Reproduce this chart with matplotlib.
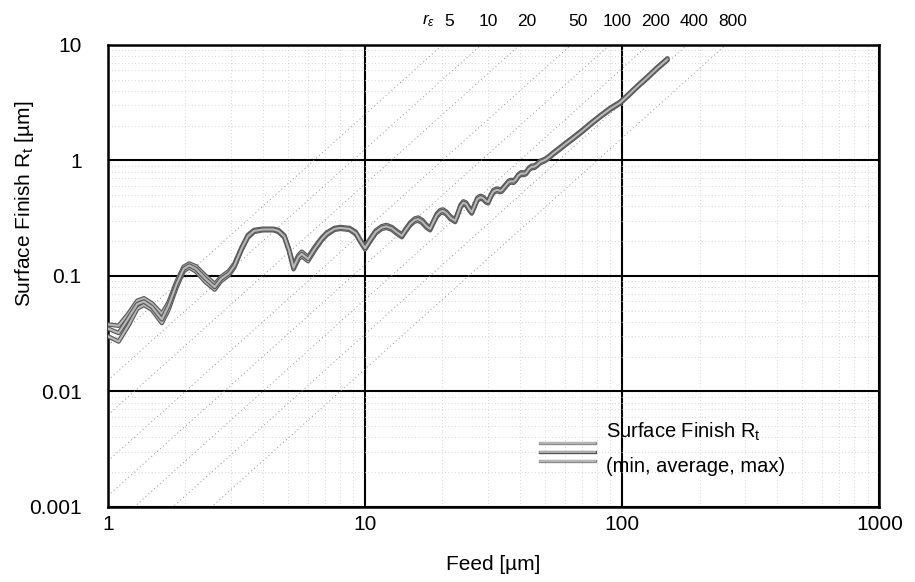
import numpy as np
import matplotlib
matplotlib.use('Agg')
import matplotlib.pyplot as plt
import matplotlib.patheffects as pe
from matplotlib.lines import Line2D

plt.rcParams['font.family'] = ['Liberation Sans', 'DejaVu Sans']
plt.rcParams['mathtext.fontset'] = 'custom'
plt.rcParams['mathtext.rm'] = 'Liberation Sans'
plt.rcParams['mathtext.it'] = 'Liberation Sans:italic'

# feed [um] and measured surface finish Rt [um]
feed = [1.0, 1.1, 1.2, 1.3, 1.38, 1.48, 1.62, 1.72, 1.85, 1.97,
        2.07, 2.2, 2.4, 2.6, 2.75, 2.95, 3.1, 3.3, 3.5, 3.7,
        4.0, 4.4, 4.6, 4.85, 5.05, 5.27, 5.5, 5.67, 6.0, 6.4,
        6.8, 7.1, 7.6, 8.0, 8.7, 9.2, 9.6, 10.0, 10.4, 11.0,
        11.6, 12.1, 12.7, 13.3, 13.9, 14.4, 15.0, 15.6, 16.1, 16.7,
        17.3, 17.9, 18.4, 19.0, 19.6, 20.1, 20.7, 21.5, 22.4, 22.9,
        23.5, 24.1, 24.7, 25.4, 26.0, 26.6, 27.3, 28.1, 28.8, 29.5,
        30.1, 30.8, 31.6, 32.6, 33.4, 34.0, 34.9, 36.2, 37.0, 37.8,
        38.5, 39.5, 40.5, 41.5, 42.3, 43.3, 44.5, 45.5, 46.5, 48.0,
        49.2, 50.5, 52, 54, 57, 60, 65, 70, 76, 83,
        90, 98, 106, 115, 125, 137, 150]

rt_avg = [0.035, 0.032, 0.043, 0.057, 0.060, 0.054, 0.042, 0.055, 0.085, 0.115,
          0.123, 0.115, 0.094, 0.080, 0.094, 0.105, 0.122, 0.170, 0.220, 0.245,
          0.252, 0.252, 0.245, 0.220, 0.170, 0.118, 0.145, 0.155, 0.140, 0.175,
          0.210, 0.232, 0.255, 0.260, 0.255, 0.235, 0.200, 0.174, 0.200, 0.240,
          0.262, 0.268, 0.258, 0.238, 0.222, 0.250, 0.283, 0.305, 0.310, 0.295,
          0.270, 0.255, 0.290, 0.335, 0.360, 0.365, 0.350, 0.318, 0.300, 0.340,
          0.400, 0.430, 0.420, 0.380, 0.355, 0.400, 0.460, 0.480, 0.470, 0.445,
          0.435, 0.490, 0.540, 0.556, 0.545, 0.550, 0.590, 0.650, 0.660, 0.655,
          0.680, 0.740, 0.770, 0.765, 0.780, 0.840, 0.880, 0.880, 0.910, 0.970,
          0.990, 1.020, 1.070, 1.150, 1.260, 1.380, 1.580, 1.800, 2.100, 2.450,
          2.800, 3.150, 3.700, 4.400, 5.200, 6.300, 7.500]

rt_min = [0.030, 0.027, 0.037, 0.052, 0.056, 0.051, 0.039, 0.051, 0.080, 0.110,
          0.118, 0.109, 0.088, 0.076, 0.090, 0.101, 0.118, 0.165, 0.214, 0.240,
          0.248, 0.248, 0.240, 0.215, 0.165, 0.114, 0.139, 0.148, 0.134, 0.169,
          0.204, 0.226, 0.250, 0.255, 0.250, 0.229, 0.195, 0.169, 0.194, 0.233,
          0.255, 0.260, 0.251, 0.231, 0.216, 0.243, 0.275, 0.296, 0.300, 0.286,
          0.262, 0.248, 0.282, 0.325, 0.349, 0.354, 0.340, 0.309, 0.292, 0.330,
          0.389, 0.418, 0.408, 0.369, 0.346, 0.389, 0.447, 0.467, 0.457, 0.433,
          0.424, 0.477, 0.525, 0.541, 0.531, 0.535, 0.575, 0.633, 0.643, 0.638,
          0.663, 0.721, 0.751, 0.746, 0.761, 0.819, 0.858, 0.858, 0.888, 0.947,
          0.967, 0.997, 1.046, 1.124, 1.232, 1.350, 1.546, 1.762, 2.056, 2.400,
          2.742, 3.090, 3.630, 4.320, 5.100, 6.180, 7.360]

rt_max = [0.038, 0.037, 0.047, 0.061, 0.064, 0.058, 0.047, 0.059, 0.090, 0.120,
          0.128, 0.121, 0.100, 0.085, 0.098, 0.110, 0.127, 0.175, 0.226, 0.250,
          0.256, 0.256, 0.250, 0.225, 0.175, 0.123, 0.151, 0.162, 0.146, 0.181,
          0.216, 0.238, 0.260, 0.265, 0.260, 0.241, 0.205, 0.180, 0.206, 0.247,
          0.269, 0.276, 0.265, 0.245, 0.228, 0.257, 0.291, 0.314, 0.320, 0.304,
          0.278, 0.262, 0.298, 0.345, 0.371, 0.376, 0.360, 0.327, 0.308, 0.350,
          0.411, 0.442, 0.432, 0.391, 0.364, 0.411, 0.473, 0.493, 0.483, 0.457,
          0.446, 0.503, 0.555, 0.571, 0.559, 0.565, 0.605, 0.667, 0.677, 0.672,
          0.697, 0.759, 0.789, 0.784, 0.799, 0.861, 0.902, 0.902, 0.932, 0.993,
          1.013, 1.043, 1.094, 1.176, 1.288, 1.410, 1.614, 1.838, 2.144, 2.500,
          2.858, 3.210, 3.770, 4.480, 5.300, 6.420, 7.640]

# tool nose radii [um] for theoretical roughness lines Rt = f^2 / (8 r)
nose_radius = [5, 10, 20, 50, 100, 200, 400, 800]

x_ticks = [1, 10, 100, 1000]
x_ticklabels = ['1', '10', '100', '1000']
y_ticks = [0.001, 0.01, 0.1, 1, 10]
y_ticklabels = ['0.001', '0.01', '0.1', '1', '10']

fig = plt.figure(figsize=(9.15, 5.82), dpi=100)
ax = fig.add_axes([0.118, 0.129, 0.843, 0.794])
ax.set_xscale('log')
ax.set_yscale('log')
ax.set_xlim(1, 1000)
ax.set_ylim(0.001, 10)

# grid
ax.grid(which='major', color='black', lw=1.5)
ax.grid(which='minor', color='#c8c8c8', lw=0.6, ls=(0, (1, 3)))
ax.set_axisbelow(True)

# theoretical lines for each nose radius, labelled where they leave the top
f_line = np.logspace(0, 3, 200)
xtop = ax.get_xaxis_transform()
for r in nose_radius:
    ax.plot(f_line, f_line ** 2 / (8 * r), color='#909090', lw=0.7,
            ls=(0, (1, 3)), zorder=1)
    ax.annotate(str(r), xy=(np.sqrt(80 * r), 1.035), xycoords=xtop,
                xytext=(5, 0), textcoords='offset points',
                ha='center', va='bottom', fontsize=12.5)
ax.annotate(r'$r_{\epsilon}$', xy=(np.sqrt(80 * nose_radius[0]), 1.035),
            xycoords=xtop, xytext=(-5, 0),
            textcoords='offset points', ha='right', va='bottom', fontsize=12.5)

outline = [pe.Stroke(linewidth=3.2, foreground='#5a5a5a'), pe.Normal()]
for vals in (rt_min, rt_max, rt_avg):
    ax.plot(feed, vals, color='#b8b8b8', lw=1.5, path_effects=outline,
            solid_capstyle='round', zorder=3)

# legend drawn by hand
for yy, edge in ((0.139, '#8a8a8a'), (0.118, '#555555'), (0.100, '#8a8a8a')):
    ax.add_line(Line2D([0.560, 0.632], [yy, yy], transform=ax.transAxes,
                       color='#bdbdbd', lw=1.2,
                       path_effects=[pe.Stroke(linewidth=2.4, foreground=edge), pe.Normal()]))
ax.text(0.646, 0.163, r'Surface Finish R$_{\rm t}$', transform=ax.transAxes,
        fontsize=14.5, va='center', ha='left')
ax.text(0.646, 0.087, '(min, average, max)', transform=ax.transAxes,
        fontsize=14.5, va='center', ha='left')

ax.set_xticks(x_ticks)
ax.set_xticklabels(x_ticklabels)
ax.set_yticks(y_ticks)
ax.set_yticklabels(y_ticklabels)
ax.tick_params(which='both', length=0, labelsize=15)
ax.tick_params(axis='y', pad=19)
ax.tick_params(axis='x', pad=6)
ax.set_xlabel('Feed [µm]', fontsize=15)
ax.set_ylabel(r'Surface Finish R$_{\rm t}$ [µm]', fontsize=15)
ax.xaxis.set_label_coords(0.5, -0.105)
ax.yaxis.set_label_coords(-0.108, 0.655)
ax.yaxis.label.set_va('center')

for s in ax.spines.values():
    s.set_linewidth(1.8)
    s.set_color('black')

fig.savefig('out.png', dpi=100)
